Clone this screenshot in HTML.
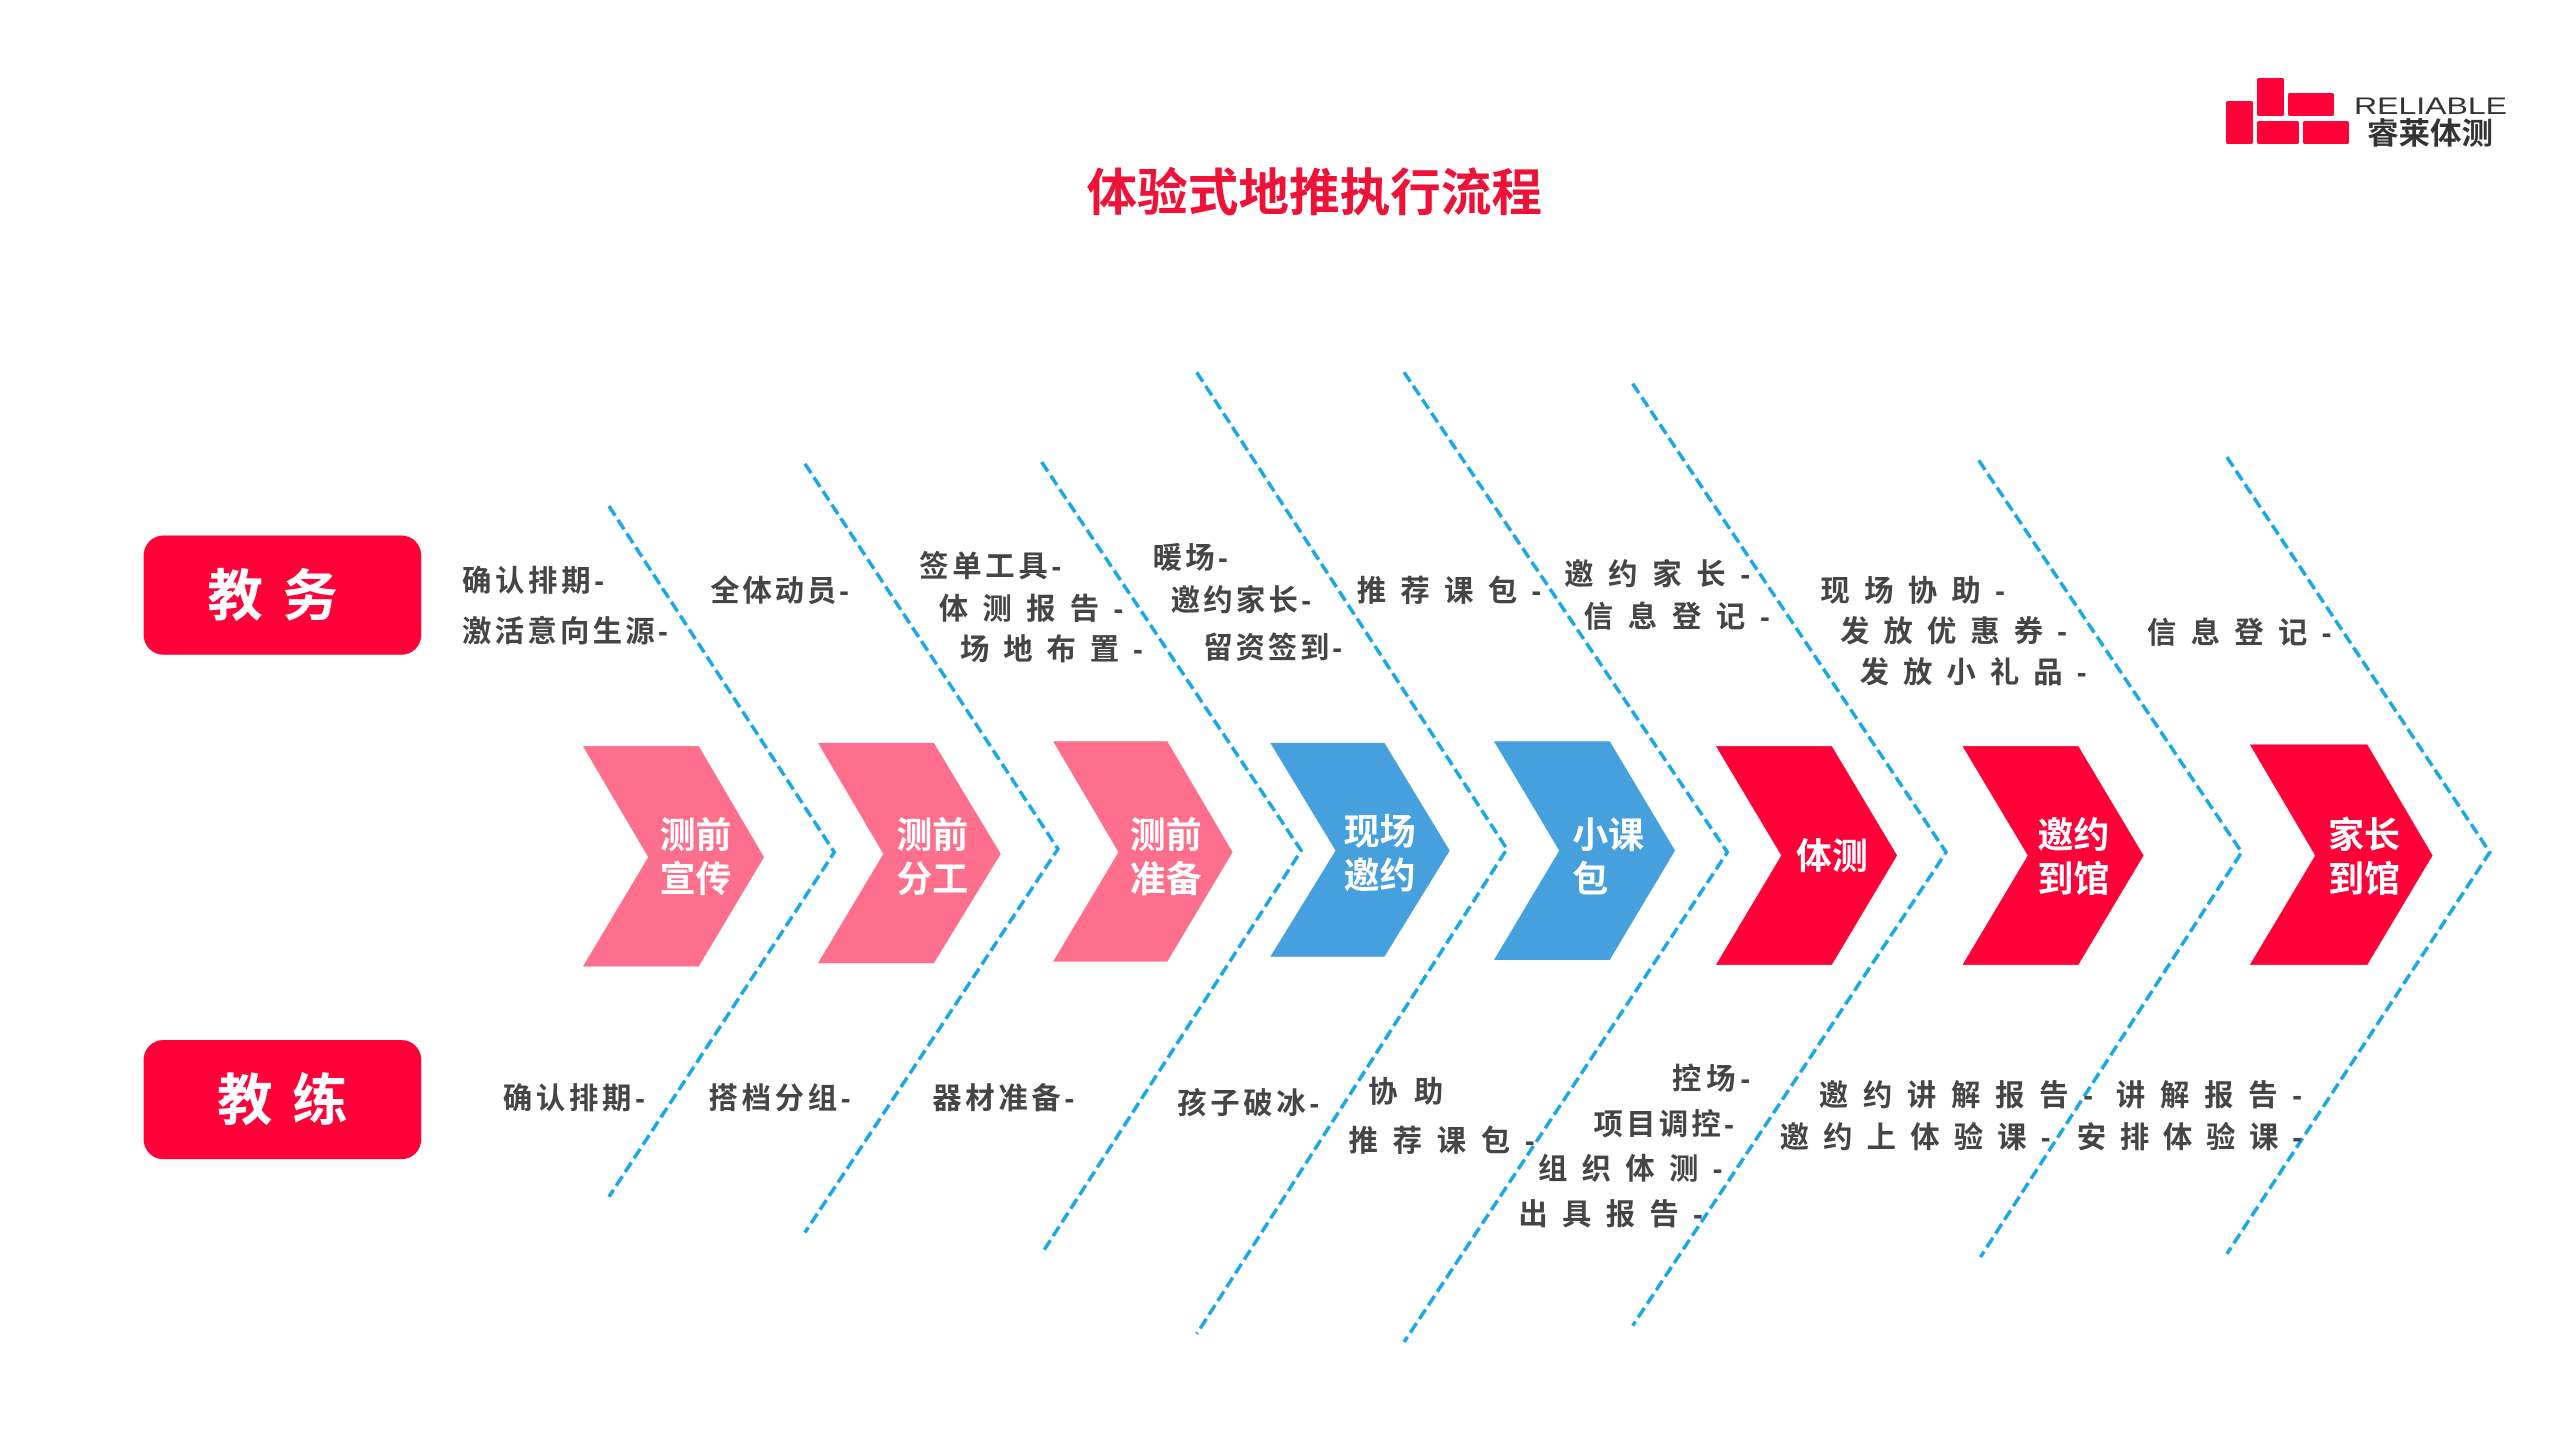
<!DOCTYPE html>
<html><head><meta charset="utf-8"><style>
html,body{margin:0;padding:0;background:#fff;}
svg{display:block;}
.t{font-family:"Liberation Sans","Noto Sans CJK SC",sans-serif;font-weight:bold;fill:#454545;font-size:18px;}
.w{font-family:"Liberation Sans","Noto Sans CJK SC",sans-serif;font-weight:bold;fill:#fff;font-size:22px;}
.d{fill:none;stroke:#18a8e8;stroke-width:2.2;stroke-dasharray:7 3;}
</style></head><body>
<svg width="2560" height="1440" viewBox="0 0 1568 882" xmlns="http://www.w3.org/2000/svg">
<rect width="1568" height="882" fill="#fff"/>
<text x="805" y="129" text-anchor="middle" style="font-family:'Liberation Sans','Noto Sans CJK SC',sans-serif;font-weight:bold;font-size:31px;fill:#ef1238">体验式地推执行流程</text>
<g transform="scale(0.6125)">
<rect x="2226" y="101" width="27" height="43" rx="2" fill="#ff0038"/>
<rect x="2257" y="78" width="27" height="38" rx="2" fill="#ff0038"/>
<rect x="2288" y="93" width="46" height="23" rx="2" fill="#ff0038"/>
<rect x="2257" y="121" width="42" height="23" rx="2" fill="#ff0038"/>
<rect x="2303" y="121" width="46" height="23" rx="2" fill="#ff0038"/>
<text x="2354" y="114" textLength="153" lengthAdjust="spacingAndGlyphs" style="font-family:'Liberation Sans',sans-serif;font-size:24px;fill:#333">RELIABLE</text>
<text x="2367" y="144" textLength="126" lengthAdjust="spacingAndGlyphs" style="font-family:'Liberation Sans','Noto Sans CJK SC',sans-serif;font-weight:bold;font-size:30px;fill:#333">睿莱体测</text>
</g>
<rect x="88" y="328" width="170" height="73" rx="12" fill="#ff0038"/>
<text x="173" y="377" text-anchor="middle" style="font-family:'Liberation Sans','Noto Sans CJK SC',sans-serif;font-weight:bold;font-size:34px;fill:#fff;letter-spacing:12px">教务</text>
<rect x="88" y="637" width="170" height="73" rx="12" fill="#ff0038"/>
<text x="179" y="686" text-anchor="middle" style="font-family:'Liberation Sans','Noto Sans CJK SC',sans-serif;font-weight:bold;font-size:34px;fill:#fff;letter-spacing:12px">教练</text>
<g>
<polygon points="357,457 428,457 468,525 428,592 357,592 397,525" fill="#fd6f8d"/>
<polygon points="501,455 572,455 613,523 572,590 501,590 541,523" fill="#fd6f8d"/>
<polygon points="645,454 715,454 755,522 715,589 645,589 685,522" fill="#fd6f8d"/>
<polygon points="778,455 848,455 888,521 848,586 778,586 818,521" fill="#46a0dd"/>
<polygon points="915,454 986,454 1026,521 986,588 915,588 955,521" fill="#46a0dd"/>
<polygon points="1051,457 1122,457 1162,524 1122,591 1051,591 1091,524" fill="#ff0038"/>
<polygon points="1202,457 1273,457 1313,524 1273,591 1202,591 1242,524" fill="#ff0038"/>
<polygon points="1378,456 1450,456 1490,524 1450,591 1378,591 1418,524" fill="#ff0038"/>
</g>
<text class="w" x="426" y="519" text-anchor="middle">测前</text><text class="w" x="426" y="546" text-anchor="middle">宣传</text>
<text class="w" x="571" y="519" text-anchor="middle">测前</text><text class="w" x="571" y="546" text-anchor="middle">分工</text>
<text class="w" x="714" y="519" text-anchor="middle">测前</text><text class="w" x="714" y="546" text-anchor="middle">准备</text>
<text class="w" x="845" y="517" text-anchor="middle">现场</text><text class="w" x="845" y="544" text-anchor="middle">邀约</text>
<text class="w" x="963" y="519">小课</text><text class="w" x="963" y="546">包</text>
<text class="w" x="1122" y="532" text-anchor="middle">体测</text>
<text class="w" x="1270" y="519" text-anchor="middle">邀约</text><text class="w" x="1270" y="546" text-anchor="middle">到馆</text>
<text class="w" x="1448" y="519" text-anchor="middle">家长</text><text class="w" x="1448" y="546" text-anchor="middle">到馆</text>
<polyline class="d" points="373,310 511,522 373,733"/>
<polyline class="d" points="493,284 648,520 493,755"/>
<polyline class="d" points="638,283 797,521 638,768"/>
<polyline class="d" points="733,228 923,520 733,817"/>
<polyline class="d" points="860,228 1058,522 860,822"/>
<polyline class="d" points="1000,235 1192,522 1000,812"/>
<polyline class="d" points="1212,282 1373,522 1213,770"/>
<polyline class="d" points="1364,280 1525,522 1364,768"/>
<text class="t" x="283" y="362" textLength="87">确认排期-</text>
<text class="t" x="283" y="393" textLength="126">激活意向生源-</text>
<text class="t" x="435" y="368" textLength="85">全体动员-</text>
<text class="t" x="563" y="353" textLength="87">签单工具-</text>
<text class="t" x="575" y="379" textLength="113">体 测 报 告 -</text>
<text class="t" x="588" y="404" textLength="112">场 地 布 置 -</text>
<text class="t" x="706" y="348" textLength="46">暖场-</text>
<text class="t" x="717" y="374" textLength="86">邀约家长-</text>
<text class="t" x="737" y="403" textLength="85">留资签到-</text>
<text class="t" x="831" y="368" textLength="113">推 荐 课 包 -</text>
<text class="t" x="958" y="358" textLength="114">邀 约 家 长 -</text>
<text class="t" x="970" y="384" textLength="114">信 息 登 记 -</text>
<text class="t" x="1115" y="368" textLength="113">现 场 协 助 -</text>
<text class="t" x="1127" y="393" textLength="139">发 放 优 惠 券 -</text>
<text class="t" x="1139" y="418" textLength="139">发 放 小 礼 品 -</text>
<text class="t" x="1315" y="394" textLength="113">信 息 登 记 -</text>
<text class="t" x="308" y="679" textLength="87">确认排期-</text>
<text class="t" x="434" y="679" textLength="87">搭档分组-</text>
<text class="t" x="571" y="679" textLength="87">器材准备-</text>
<text class="t" x="721" y="682" textLength="87">孩子破冰-</text>
<text class="t" x="838" y="675" textLength="46">协 助</text>
<text class="t" x="826" y="705" textLength="114">推 荐 课 包 -</text>
<text class="t" x="1024" y="667" textLength="48">控场-</text>
<text class="t" x="976" y="695" textLength="86">项目调控-</text>
<text class="t" x="942" y="722" textLength="113">组 织 体 测 -</text>
<text class="t" x="930" y="750" textLength="113">出 具 报 告 -</text>
<text class="t" x="1114" y="677" textLength="168">邀 约 讲 解 报 告 -</text>
<text class="t" x="1090" y="703" textLength="166">邀 约 上 体 验 课 -</text>
<text class="t" x="1296" y="677" textLength="114">讲 解 报 告 -</text>
<text class="t" x="1272" y="703" textLength="138">安 排 体 验 课 -</text>
</svg>
</body></html>
